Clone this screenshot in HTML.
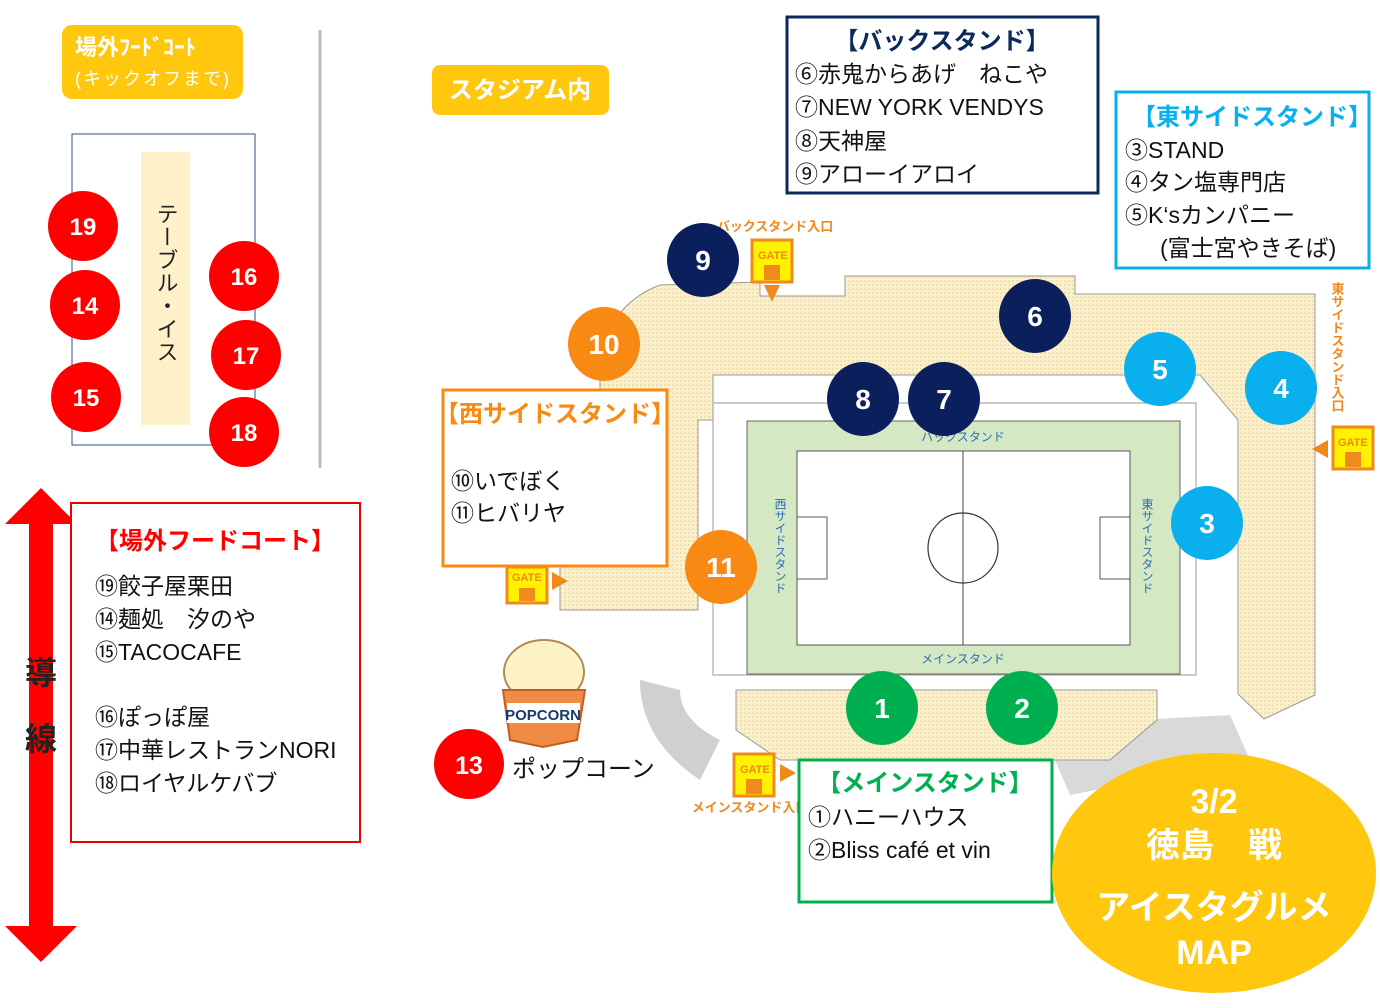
<!DOCTYPE html>
<html><head><meta charset="utf-8"><style>
html,body{margin:0;padding:0;background:#fff;}
svg{display:block;font-family:"Liberation Sans","Noto Sans CJK JP",sans-serif;}
</style></head><body>
<svg width="1380" height="1008" viewBox="0 0 1380 1008" xmlns="http://www.w3.org/2000/svg">
<defs>
<pattern id="bg" width="4" height="4" patternUnits="userSpaceOnUse"><rect width="4" height="4" fill="#fbf0cc"/><rect width="2" height="2" fill="#f3e0b0"/></pattern>
</defs>
<rect x="62" y="25" width="181" height="74" rx="10" fill="#ffc80e"/>
<text x="75" y="55" font-size="22" font-weight="bold" fill="#fff">場外ﾌｰﾄﾞｺｰﾄ</text>
<text x="75" y="85" font-size="18" fill="#fff" letter-spacing="2">(キックオフまで)</text>
<rect x="432" y="65" width="177" height="50" rx="8" fill="#ffc80e"/>
<text x="520" y="98" font-size="24" font-weight="bold" fill="#fff" text-anchor="middle">スタジアム内</text>
<line x1="320" y1="30" x2="320" y2="468" stroke="#bbb" stroke-width="3"/>
<rect x="72" y="134" width="183" height="311" fill="#fff" stroke="#2f4f8f" stroke-width="1"/>
<rect x="141" y="152" width="49" height="273" fill="#fef0c8"/>
<text x="166" y="283" font-size="22" fill="#222" text-anchor="middle" style="writing-mode:vertical-rl" letter-spacing="1">テーブル・イス</text>
<g font-size="24" font-weight="bold" fill="#fff" text-anchor="middle">
<circle cx="83" cy="226" r="35" fill="#f00"/><text x="83" y="235">19</text>
<circle cx="85" cy="305" r="35" fill="#f00"/><text x="85" y="314">14</text>
<circle cx="86" cy="397" r="35" fill="#f00"/><text x="86" y="406">15</text>
<circle cx="244" cy="276" r="35" fill="#f00"/><text x="244" y="285">16</text>
<circle cx="246" cy="355" r="35" fill="#f00"/><text x="246" y="364">17</text>
<circle cx="244" cy="432" r="35" fill="#f00"/><text x="244" y="441">18</text>
</g>
<polygon points="41,488 77,524 53,524 53,926 77,926 41,962 5,926 29,926 29,524 5,524" fill="#f00"/>
<text x="41" y="684" font-size="32" font-weight="bold" fill="#222" text-anchor="middle">導</text>
<text x="41" y="750" font-size="32" font-weight="bold" fill="#222" text-anchor="middle">線</text>
<rect x="71" y="503" width="289" height="339" fill="#fff" stroke="#e00" stroke-width="2"/>
<text x="95" y="549" font-size="24" font-weight="bold" fill="#f00">【場外フードコート】</text>
<g font-size="23" fill="#111">
<text x="95" y="594">⑲餃子屋栗田</text>
<text x="95" y="627">⑭麺処　汐のや</text>
<text x="95" y="660">⑮TACOCAFE</text>
<text x="95" y="725">⑯ぽっぽ屋</text>
<text x="95" y="758">⑰中華レストランNORI</text>
<text x="95" y="791">⑱ロイヤルケバブ</text>
</g>

<path d="M1040,725 L1230,715 L1250,760 L1070,795 Z" fill="#d9d9d9"/>
<path d="M640,680 Q640,740 700,780 L720,740 Q680,720 680,690 Z" fill="#d0d0d0"/>
<path d="M605,340 Q620,300 660,285 L760,282 L760,296 L845,296 L845,276 L1075,276 L1075,294 L1315,294 L1315,695 L1264,719 L1238,694 L1238,420 L1200,375 L713,375 L713,420 L698,420 L698,610 L560,610 L560,560 L600,560 L600,380 Z" fill="url(#bg)" stroke="#999" stroke-width="1"/>
<path d="M736,690 L1157,690 L1157,720 L1110,760 L780,760 L736,730 Z" fill="url(#bg)" stroke="#999" stroke-width="1"/>
<rect x="713" y="403" width="483" height="272" fill="#fff" stroke="#999"/>
<rect x="747" y="421" width="433" height="253" fill="#d5e8c4" stroke="#666"/>
<rect x="797" y="451" width="333" height="194" fill="#fff" stroke="#555"/>
<line x1="963" y1="451" x2="963" y2="645" stroke="#444"/>
<circle cx="963" cy="548" r="35" fill="none" stroke="#333" stroke-width="1.2"/>
<rect x="797" y="517" width="30" height="62" fill="none" stroke="#555"/>
<rect x="1100" y="517" width="30" height="62" fill="none" stroke="#555"/>
<text x="963" y="441" font-size="12" fill="#2a6db5" text-anchor="middle">バックスタンド</text>
<text x="963" y="663" font-size="12" fill="#2a6db5" text-anchor="middle">メインスタンド</text>
<text x="780" y="498" font-size="12" fill="#2a6db5" style="writing-mode:vertical-rl">西サイドスタンド</text>
<text x="1147" y="498" font-size="12" fill="#2a6db5" style="writing-mode:vertical-rl">東サイドスタンド</text>
<text x="775" y="231" font-size="13" font-weight="bold" fill="#f08a1c" text-anchor="middle">バックスタンド入口</text>
<text x="750" y="812" font-size="13" font-weight="bold" fill="#f08a1c" text-anchor="middle">メインスタンド入口</text>
<text x="1337" y="282" font-size="13" font-weight="bold" fill="#f08a1c" style="writing-mode:vertical-rl">東サイドスタンド入口</text>
<g font-size="11" font-weight="bold" fill="#f08a1c">
<rect x="752" y="240" width="40" height="42" fill="#fff200" stroke="#f08a1c" stroke-width="3"/><text x="758" y="259">GATE</text><rect x="764" y="265" width="16" height="15" fill="#f08a1c"/>
<polygon points="764,285 780,285 772,302" fill="#f08a1c"/>
<rect x="1333" y="427" width="40" height="42" fill="#fff200" stroke="#f08a1c" stroke-width="3"/><text x="1338" y="446">GATE</text><rect x="1345" y="452" width="16" height="15" fill="#f08a1c"/>
<polygon points="1328,440 1328,458 1312,449" fill="#f08a1c"/>
<rect x="507" y="567" width="40" height="36" fill="#fff200" stroke="#f08a1c" stroke-width="3"/><text x="512" y="581">GATE</text><rect x="519" y="588" width="16" height="13" fill="#f08a1c"/>
<polygon points="552,572 552,590 568,581" fill="#f08a1c"/>
<rect x="734" y="754" width="40" height="42" fill="#fff200" stroke="#f08a1c" stroke-width="3"/><text x="740" y="773">GATE</text><rect x="746" y="779" width="16" height="15" fill="#f08a1c"/>
<polygon points="780,764 780,782 796,773" fill="#f08a1c"/>
</g>
<g>
<ellipse cx="544" cy="672" rx="40" ry="32" fill="#fdf2c6" stroke="#b08a50" stroke-width="2"/>
<polygon points="503,690 585,690 577,740 543,747 510,740" fill="#f08a44" stroke="#c06020" stroke-width="2"/>
<rect x="507" y="703" width="73" height="20" fill="#fff"/>
<text x="543" y="720" font-size="15" font-weight="bold" fill="#1a3a6a" text-anchor="middle">POPCORN</text>
</g>
<text x="512" y="777" font-size="24" fill="#111">ポップコーン</text>
<g font-size="28" font-weight="bold" fill="#fff" text-anchor="middle">
<ellipse cx="703" cy="260" rx="36" ry="37" fill="#0b1f5c"/><text x="703" y="270">9</text>
<ellipse cx="1035" cy="316" rx="36" ry="37" fill="#0b1f5c"/><text x="1035" y="326">6</text>
<ellipse cx="863" cy="399" rx="36" ry="37" fill="#0b1f5c"/><text x="863" y="409">8</text>
<ellipse cx="944" cy="399" rx="36" ry="37" fill="#0b1f5c"/><text x="944" y="409">7</text>
<ellipse cx="604" cy="344" rx="36" ry="37" fill="#f88a14"/><text x="604" y="354">10</text>
<ellipse cx="721" cy="567" rx="36" ry="37" fill="#f88a14"/><text x="721" y="577">11</text>
<ellipse cx="1160" cy="369" rx="36" ry="37" fill="#0ab0ee"/><text x="1160" y="379">5</text>
<ellipse cx="1281" cy="388" rx="36" ry="37" fill="#0ab0ee"/><text x="1281" y="398">4</text>
<ellipse cx="1207" cy="523" rx="36" ry="37" fill="#0ab0ee"/><text x="1207" y="533">3</text>
<ellipse cx="882" cy="708" rx="36" ry="37" fill="#00b050"/><text x="882" y="718">1</text>
<ellipse cx="1022" cy="708" rx="36" ry="37" fill="#00b050"/><text x="1022" y="718">2</text>
<circle cx="469" cy="764" r="35" fill="#f00"/><text x="469" y="774" font-size="25">13</text>
</g>
<rect x="787" y="17" width="311" height="176" fill="#fff" stroke="#0b2a5c" stroke-width="3"/>
<text x="942" y="49" font-size="24" font-weight="bold" fill="#0b2a5c" text-anchor="middle">【バックスタンド】</text>
<g font-size="23" fill="#111">
<text x="795" y="82">⑥赤鬼からあげ　ねこや</text>
<text x="795" y="115">⑦NEW YORK VENDYS</text>
<text x="795" y="149">⑧天神屋</text>
<text x="795" y="182">⑨アローイアロイ</text>
</g>
<rect x="1116" y="92" width="253" height="176" fill="#fff" stroke="#0ab0ee" stroke-width="3"/>
<text x="1252" y="125" font-size="24" font-weight="bold" fill="#0ab0ee" text-anchor="middle">【東サイドスタンド】</text>
<g font-size="23" fill="#111">
<text x="1125" y="158">③STAND</text>
<text x="1125" y="190">④タン塩専門店</text>
<text x="1125" y="223">⑤K‘sカンパニー</text>
<text x="1160" y="256">(富士宮やきそば)</text>
</g>
<rect x="443" y="390" width="224" height="176" fill="#fff" stroke="#f88a14" stroke-width="3"/>
<text x="555" y="422" font-size="24" font-weight="bold" fill="#f88a14" text-anchor="middle">【西サイドスタンド】</text>
<g font-size="23" fill="#111">
<text x="451" y="489">⑩いでぼく</text>
<text x="451" y="521">⑪ヒバリヤ</text>
</g>
<rect x="799" y="760" width="253" height="142" fill="#fff" stroke="#00b050" stroke-width="3"/>
<text x="925" y="791" font-size="24" font-weight="bold" fill="#00b050" text-anchor="middle">【メインスタンド】</text>
<g font-size="23" fill="#111">
<text x="808" y="825">①ハニーハウス</text>
<text x="808" y="858">②Bliss café et vin</text>
</g>
<ellipse cx="1214" cy="873" rx="162" ry="120" fill="#ffc80e"/>
<g font-size="34" font-weight="bold" fill="#fff" text-anchor="middle">
<text x="1214" y="813">3/2</text>
<text x="1214" y="857">徳島　戦</text>
<text x="1214" y="919">アイスタグルメ</text>
<text x="1214" y="964">MAP</text>
</g>
</svg>
</body></html>
